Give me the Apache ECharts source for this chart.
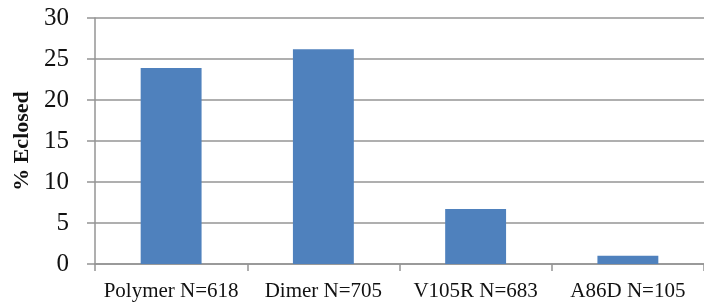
<!DOCTYPE html>
<html>
<head>
<meta charset="utf-8">
<script src="https://cdn.jsdelivr.net/npm/echarts@6/dist/echarts.min.js"></script>
<style>
  html, body { margin: 0; padding: 0; background: #fff; }
  #chart { width: 704px; height: 305px; }
</style>
</head>
<body>
<div id="chart"></div>
<script>
// data
var categories = ['Polymer N=618', 'Dimer N=705', 'V105R N=683', 'A86D N=105']
var eclosed = [23.9, 26.2, 6.7, 1.0]
var yTicks = { min: 0, max: 30, interval: 5 }

var chart = echarts.init(document.getElementById('chart'))
var axisGray = '#949494'

chart.setOption({
  animation: false,
  grid: {
    left: 95,
    right: -7,
    top: 18,
    bottom: 41
  },
  xAxis: {
    type: 'category',
    data: categories,
    axisLine: { lineStyle: { color: axisGray, width: 1.5 } },
    axisTick: { show: true, length: 7, lineStyle: { color: axisGray, width: 1.5 } },
    axisLabel: {
      interval: 0,
      color: '#111',
      fontFamily: 'Liberation Serif',
      fontSize: 21,
      margin: 17
    }
  },
  yAxis: {
    type: 'value',
    min: yTicks.min,
    max: yTicks.max,
    interval: yTicks.interval,
    name: '% Eclosed',
    nameLocation: 'middle',
    nameGap: 55,
    nameTextStyle: {
      color: '#111',
      fontFamily: 'Liberation Serif',
      fontWeight: 'bold',
      fontSize: 22
    },
    axisLine: { show: true, lineStyle: { color: axisGray, width: 1.5 } },
    axisTick: { show: true, length: 8, lineStyle: { color: axisGray, width: 1.5 } },
    splitLine: { show: true, lineStyle: { color: axisGray, width: 1.5 } },
    axisLabel: {
      color: '#111',
      fontFamily: 'Liberation Serif',
      fontSize: 25,
      margin: 26
    }
  },
  series: [{
    type: 'bar',
    data: eclosed,
    barWidth: '40%',
    itemStyle: { color: '#4F81BD' }
  }]
})
</script>
</body>
</html>
